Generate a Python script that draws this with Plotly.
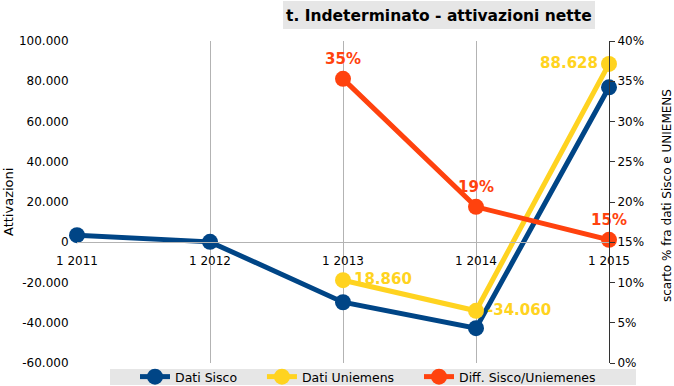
import plotly.graph_objects as go

years = [2011, 2012, 2013, 2014, 2015]
year_labels = ["1 2011", "1 2012", "1 2013", "1 2014", "1 2015"]

sisco = [3500, 200, -29800, -42700, 77000]
uniemens = [None, None, -18860, -34060, 88628]
uniemens_labels = ["", "", "18.860", "-34.060", "88.628"]
diff_pct = [None, None, 35.3, 19.4, 15.3]
diff_labels = ["", "", "35%", "19%", "15%"]

left_ticks = [-60000, -40000, -20000, 0, 20000, 40000, 60000, 80000, 100000]
left_ticktext = ["-60.000", "-40.000", "-20.000", "0", "20.000", "40.000", "60.000", "80.000", "100.000"]
right_ticks = [0, 5, 10, 15, 20, 25, 30, 35, 40]
right_ticktext = [f"{v}%" for v in right_ticks]

BLUE = "#004586"
YELLOW = "#ffd320"
ORANGE = "#ff420e"
FONT = "DejaVu Sans"
NB = "\u00a0"

fig = go.Figure()
fig.add_trace(go.Scatter(
    x=years, y=sisco, name="Dati Sisco" + NB * 5, mode="lines+markers",
    line=dict(color=BLUE, width=5), marker=dict(size=16, color=BLUE),
    cliponaxis=False,
))
fig.add_trace(go.Scatter(
    x=years, y=uniemens, name="Dati Uniemens" + NB * 5, mode="lines+markers+text",
    line=dict(color=YELLOW, width=5), marker=dict(size=16, color=YELLOW),
    text=uniemens_labels,
    textposition=["middle right", "middle right", "middle right", "middle right", "middle left"],
    textfont=dict(color=YELLOW, size=15, family=FONT, weight="bold"),
    cliponaxis=False,
))
fig.add_trace(go.Scatter(
    x=years, y=diff_pct, name="Diff. Sisco/Uniemenes", mode="lines+markers+text",
    line=dict(color=ORANGE, width=5), marker=dict(size=16, color=ORANGE),
    text=diff_labels, textposition="top center",
    textfont=dict(color=ORANGE, size=15, family=FONT, weight="bold"),
    yaxis="y2", cliponaxis=False,
))

L, R, T, B = 77, 65, 41, 23
W, H = 674, 386
pw, ph = W - L - R, H - T - B

def px_x(p):
    return (p - L) / pw

def px_y(p):
    return (H - B - p) / ph

fig.update_layout(
    width=W, height=H,
    margin=dict(l=L, r=R, t=T, b=B, autoexpand=False),
    paper_bgcolor="white", plot_bgcolor="white",
    font=dict(family=FONT, size=12, color="black"),
    showlegend=True,
    legend=dict(
        orientation="h", x=px_x(135), xanchor="left", y=px_y(377), yanchor="middle",
        bgcolor="rgba(0,0,0,0)", font=dict(size=12.5, family=FONT, color="black"),
        itemwidth=30,
    ),
    xaxis=dict(
        range=[2011, 2015], tickvals=years, ticktext=year_labels,
        showgrid=True, gridcolor="#b3b3b3", gridwidth=1,
        showline=True, linecolor="#b3b3b3", linewidth=1,
        anchor="free", position=0.375,
        ticks="outside", ticklen=7, tickcolor="rgba(0,0,0,0)",
        zeroline=False, tickfont=dict(size=12), automargin=False,
    ),
    yaxis=dict(
        range=[-60000, 100000], tickvals=left_ticks, ticktext=left_ticktext,
        showgrid=False, zeroline=False, showline=False,
        ticks="outside", ticklen=5, tickcolor="rgba(0,0,0,0)",
        tickfont=dict(size=12), automargin=False,
    ),
    yaxis2=dict(
        range=[0, 40], tickvals=right_ticks, ticktext=right_ticktext,
        overlaying="y", side="right", anchor="x",
        showgrid=False, zeroline=False, showline=True, linecolor="#333333", linewidth=1,
        ticks="outside", ticklen=5, tickcolor="#333333",
        tickfont=dict(size=12), automargin=False,
    ),
    shapes=[
        dict(
            type="rect", xref="paper", yref="paper",
            x0=px_x(283), x1=px_x(595), y0=px_y(29), y1=px_y(1),
            fillcolor="#e6e6e6", line=dict(width=0), layer="below",
        ),
        dict(
            type="rect", xref="paper", yref="paper",
            x0=px_x(110), x1=px_x(636), y0=px_y(385), y1=px_y(369),
            fillcolor="#e6e6e6", line=dict(width=0), layer="below",
        ),
    ],
    annotations=[
        dict(
            text="<b>t. Indeterminato - attivazioni nette</b>",
            xref="paper", yref="paper", x=px_x(439), y=px_y(16),
            xanchor="center", yanchor="middle", showarrow=False,
            font=dict(size=15.5, family=FONT, color="black"),
        ),
        dict(
            text="Attivazioni", textangle=-90,
            xref="paper", yref="paper", x=px_x(8), y=px_y(202),
            xanchor="center", yanchor="middle", showarrow=False,
            font=dict(size=13, family=FONT, color="black"),
        ),
        dict(
            text="scarto % fra dati Sisco e UNIEMENS", textangle=-90,
            xref="paper", yref="paper", x=px_x(667), y=px_y(196),
            xanchor="center", yanchor="middle", showarrow=False,
            font=dict(size=12, family=FONT, color="black"),
        ),
    ],
)

fig.write_html("out.html", post_script="document.body.style.margin='0';",
               config={"displayModeBar": False})
